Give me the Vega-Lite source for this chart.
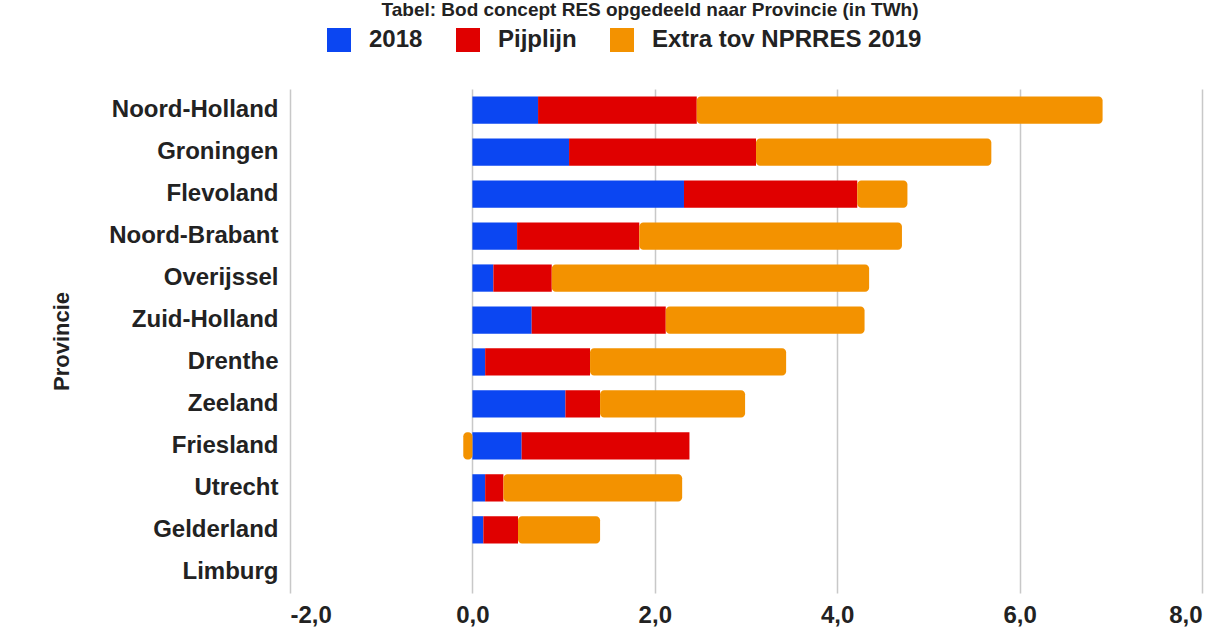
{
  "$schema": "https://vega.github.io/schema/vega-lite/v6.json",
  "autosize": "none",
  "width": 912,
  "height": 504,
  "padding": {"left": 290, "top": 89, "right": 28, "bottom": 44},
  "background": "white",
  "title": {
    "text": "Tabel: Bod concept RES opgedeeld naar Provincie (in TWh)",
    "fontSize": 19,
    "fontWeight": "bold",
    "font": "Liberation Sans",
    "color": "#222",
    "dx": -96,
    "dy": -4
  },
  "data": {
    "values": [
      {"Provincie": "Noord-Holland", "serie": "2018", "volgorde": 1, "waarde": 0.72},
      {"Provincie": "Noord-Holland", "serie": "Pijplijn", "volgorde": 2, "waarde": 1.74},
      {"Provincie": "Noord-Holland", "serie": "Extra tov NPRRES 2019", "volgorde": 3, "waarde": 4.45},
      {"Provincie": "Groningen", "serie": "2018", "volgorde": 1, "waarde": 1.06},
      {"Provincie": "Groningen", "serie": "Pijplijn", "volgorde": 2, "waarde": 2.05},
      {"Provincie": "Groningen", "serie": "Extra tov NPRRES 2019", "volgorde": 3, "waarde": 2.58},
      {"Provincie": "Flevoland", "serie": "2018", "volgorde": 1, "waarde": 2.32},
      {"Provincie": "Flevoland", "serie": "Pijplijn", "volgorde": 2, "waarde": 1.9},
      {"Provincie": "Flevoland", "serie": "Extra tov NPRRES 2019", "volgorde": 3, "waarde": 0.55},
      {"Provincie": "Noord-Brabant", "serie": "2018", "volgorde": 1, "waarde": 0.49},
      {"Provincie": "Noord-Brabant", "serie": "Pijplijn", "volgorde": 2, "waarde": 1.34},
      {"Provincie": "Noord-Brabant", "serie": "Extra tov NPRRES 2019", "volgorde": 3, "waarde": 2.88},
      {"Provincie": "Overijssel", "serie": "2018", "volgorde": 1, "waarde": 0.23},
      {"Provincie": "Overijssel", "serie": "Pijplijn", "volgorde": 2, "waarde": 0.64},
      {"Provincie": "Overijssel", "serie": "Extra tov NPRRES 2019", "volgorde": 3, "waarde": 3.48},
      {"Provincie": "Zuid-Holland", "serie": "2018", "volgorde": 1, "waarde": 0.65},
      {"Provincie": "Zuid-Holland", "serie": "Pijplijn", "volgorde": 2, "waarde": 1.47},
      {"Provincie": "Zuid-Holland", "serie": "Extra tov NPRRES 2019", "volgorde": 3, "waarde": 2.18},
      {"Provincie": "Drenthe", "serie": "2018", "volgorde": 1, "waarde": 0.14},
      {"Provincie": "Drenthe", "serie": "Pijplijn", "volgorde": 2, "waarde": 1.15},
      {"Provincie": "Drenthe", "serie": "Extra tov NPRRES 2019", "volgorde": 3, "waarde": 2.15},
      {"Provincie": "Zeeland", "serie": "2018", "volgorde": 1, "waarde": 1.02},
      {"Provincie": "Zeeland", "serie": "Pijplijn", "volgorde": 2, "waarde": 0.38},
      {"Provincie": "Zeeland", "serie": "Extra tov NPRRES 2019", "volgorde": 3, "waarde": 1.59},
      {"Provincie": "Friesland", "serie": "2018", "volgorde": 1, "waarde": 0.54},
      {"Provincie": "Friesland", "serie": "Pijplijn", "volgorde": 2, "waarde": 1.84},
      {"Provincie": "Friesland", "serie": "Extra tov NPRRES 2019", "volgorde": 3, "waarde": -0.1},
      {"Provincie": "Utrecht", "serie": "2018", "volgorde": 1, "waarde": 0.14},
      {"Provincie": "Utrecht", "serie": "Pijplijn", "volgorde": 2, "waarde": 0.2},
      {"Provincie": "Utrecht", "serie": "Extra tov NPRRES 2019", "volgorde": 3, "waarde": 1.96},
      {"Provincie": "Gelderland", "serie": "2018", "volgorde": 1, "waarde": 0.12},
      {"Provincie": "Gelderland", "serie": "Pijplijn", "volgorde": 2, "waarde": 0.38},
      {"Provincie": "Gelderland", "serie": "Extra tov NPRRES 2019", "volgorde": 3, "waarde": 0.9},
      {"Provincie": "Limburg", "serie": "2018", "volgorde": 1, "waarde": 0},
      {"Provincie": "Limburg", "serie": "Pijplijn", "volgorde": 2, "waarde": 0},
      {"Provincie": "Limburg", "serie": "Extra tov NPRRES 2019", "volgorde": 3, "waarde": 0}
    ]
  },
  "transform": [
    {"stack": "waarde", "groupby": ["Provincie"], "sort": [{"field": "volgorde", "order": "ascending"}], "as": ["x0", "x1"]}
  ],
  "encoding": {
    "y": {
      "field": "Provincie",
      "type": "nominal",
      "sort": ["Noord-Holland", "Groningen", "Flevoland", "Noord-Brabant", "Overijssel", "Zuid-Holland", "Drenthe", "Zeeland", "Friesland", "Utrecht", "Gelderland", "Limburg"],
      "scale": {"paddingInner": 0.35, "paddingOuter": 0.18},
      "axis": {
        "title": "Provincie",
        "titleFont": "Liberation Sans",
        "titleFontSize": 22,
        "titleFontWeight": "bold",
        "titleColor": "#222",
        "titlePadding": 35,
        "labelFont": "Liberation Sans",
        "labelFontSize": 24,
        "labelFontWeight": "bold",
        "labelColor": "#222",
        "labelPadding": 12,
        "labelLimit": 0,
        "domain": false,
        "ticks": false,
        "grid": false
      }
    }
  },
  "layer": [
    {
      "mark": {"type": "bar"},
      "transform": [{"filter": "datum.volgorde < 3"}],
      "encoding": {
        "x": {
          "field": "x0",
          "type": "quantitative",
          "scale": {"domain": [-2, 8], "nice": false},
          "axis": {
            "title": null,
            "values": [-2, 0, 2, 4, 6, 8],
            "labelExpr": "replace(replace(format(datum.value, '.1f'), '.', ','), '\u2212', '-')",
            "labelFont": "Liberation Sans",
            "labelFontSize": 24,
            "labelFontWeight": "bold",
            "labelColor": "#222",
            "labelPadding": 10,
            "domain": false,
            "ticks": false,
            "grid": true,
            "gridColor": "#c8c8c8",
            "gridWidth": 1.5
          }
        },
        "x2": {"field": "x1"},
        "color": {
          "field": "serie",
          "type": "nominal",
          "scale": {"domain": ["2018", "Pijplijn", "Extra tov NPRRES 2019"], "range": ["#0b46f2", "#e00000", "#f39200"]},
          "legend": {
            "title": null,
            "orient": "none",
            "direction": "horizontal",
            "legendX": 37,
            "legendY": -61,
            "symbolType": "square",
            "symbolSize": 576,
            "symbolStrokeWidth": 0,
            "labelFont": "Liberation Sans",
            "labelFontSize": 24,
            "labelFontWeight": "bold",
            "labelColor": "#222",
            "labelLimit": 0,
            "columnPadding": 33,
            "labelOffset": 18
          }
        }
      }
    },
    {
      "mark": {"type": "bar", "cornerRadius": 4},
      "transform": [{"filter": "datum.volgorde == 3 && datum.waarde != 0"}],
      "encoding": {
        "x": {"field": "x0", "type": "quantitative"},
        "x2": {"field": "x1"},
        "color": {"field": "serie", "type": "nominal"}
      }
    },
    {
      "mark": {"type": "rule", "color": "#333", "strokeWidth": 2},
      "encoding": {"x": {"datum": 0}}
    }
  ],
  "config": {"view": {"stroke": null}}
}
